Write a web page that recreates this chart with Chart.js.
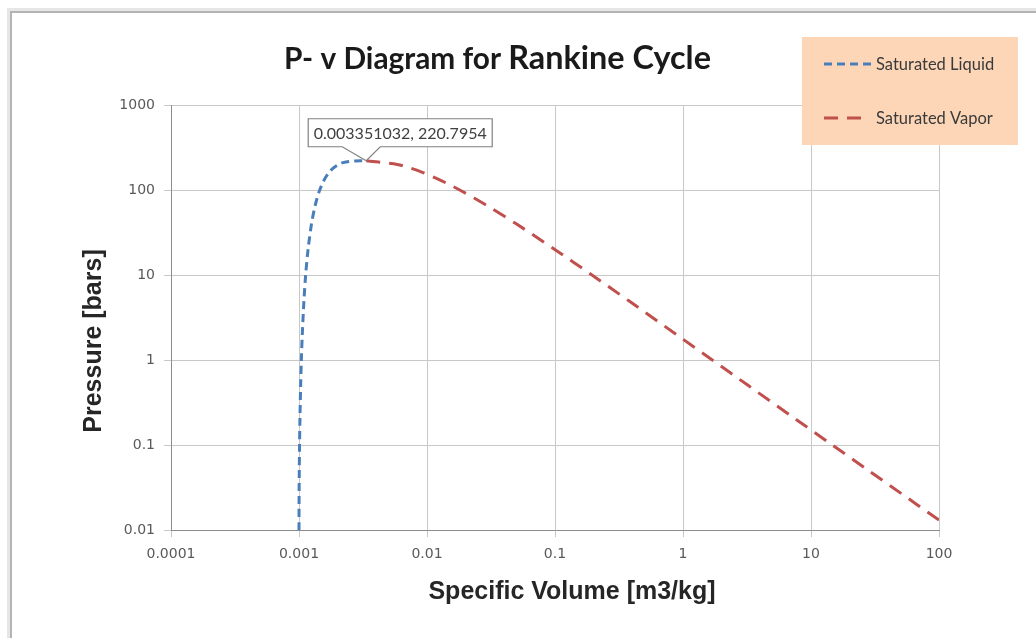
<!DOCTYPE html>
<html>
<head>
<meta charset="utf-8">
<script src="https://cdn.jsdelivr.net/npm/chart.js@4/dist/chart.umd.min.js"></script>
<style>
  html, body { margin: 0; padding: 0; background: #fff; }
  #wrap { width: 1036px; height: 638px; position: relative; }
</style>
</head>
<body>
<div id="wrap"><canvas id="pv" width="1036" height="638"></canvas></div>
<script>
// ---------- DATA ----------
// saturated liquid: specific volume [m3/kg] and pressure [bar]
const liquidV = [0.0010000, 0.0010010, 0.0010050, 0.0010100, 0.0010170, 0.0010300, 0.0010430,
  0.0010610, 0.0010930, 0.0011270, 0.0011770, 0.0012520, 0.0013190, 0.0013840, 0.0014520,
  0.0015270, 0.0016110, 0.0017110, 0.0018400, 0.0020400, 0.0022070, 0.0027500, 0.003351032];
const liquidP = [0.01, 0.02, 0.05, 0.1, 0.2, 0.5, 1, 2, 5, 10, 20, 40, 60, 80, 100,
  120, 140, 160, 180, 200, 210, 220, 220.7954];

// saturated vapor
const vaporV = [0.003351032, 0.005862, 0.007499, 0.009311, 0.0115, 0.014264, 0.018028,
  0.023525, 0.032448, 0.049779, 0.099585, 0.19436, 0.37483, 0.88578, 1.6941, 3.2403,
  7.6481, 14.670, 28.185, 66.990, 129.19];
const vaporP = [220.7954, 200, 180, 160, 140, 120, 100, 80, 60, 40, 20, 10, 5, 2, 1, 0.5,
  0.2, 0.1, 0.05, 0.02, 0.01];

const seriesNames = ['Saturated Liquid', 'Saturated Vapor'];
const xTicks = [0.0001, 0.001, 0.01, 0.1, 1, 10, 100];
const xTickLabels = ['0.0001', '0.001', '0.01', '0.1', '1', '10', '100'];
const yTicks = [0.01, 0.1, 1, 10, 100, 1000];
const yTickLabels = ['0.01', '0.1', '1', '10', '100', '1000'];
const criticalPoint = { v: 0.003351032, p: 220.7954, label: '0.003351032, 220.7954' };

const toPoints = (xs, ys) => xs.map((x, i) => ({ x, y: ys[i] }));

// font size that makes a string a given width
function fitFont(ctx, text, width, tmpl) {
  ctx.font = tmpl(100);
  const s = (100 * width) / ctx.measureText(text).width;
  return tmpl(s.toFixed(1));
}

// ---------- FRAME + TITLES + LEGEND + CALLOUT ----------
const decorPlugin = {
  id: 'decor',
  beforeDraw(chart) {
    const { ctx } = chart;
    ctx.save();
    // outer frame (left + top edge with soft shadow)
    ctx.fillStyle = '#e6e6e6';
    ctx.fillRect(7, 8, 3, 630);
    ctx.fillRect(7, 8, 1029, 3);
    ctx.fillStyle = '#b4b4b4';
    ctx.fillRect(10, 11, 2, 627);
    ctx.fillRect(10, 11, 1026, 2);
    ctx.restore();
  },
  afterDraw(chart) {
    const { ctx, scales } = chart;
    const xs = scales.x, ys = scales.y;
    ctx.save();

    // title with mixed sizes
    const part1 = 'P- v Diagram for ';
    const part2 = 'Rankine Cycle';
    const f1 = fitFont(ctx, part1, 224, s => `bold ${s}px Lato, sans-serif`);
    const f2 = fitFont(ctx, part2, 203, s => `bold ${s}px Lato, sans-serif`);
    ctx.font = f1;
    const w1 = ctx.measureText(part1).width;
    let tx = 284;
    ctx.fillStyle = '#1a1a1a';
    ctx.textBaseline = 'alphabetic';
    ctx.textAlign = 'left';
    ctx.fillText(part1, tx, 69);
    ctx.font = f2;
    ctx.fillText(part2, tx + w1, 69);

    // axis titles
    ctx.fillStyle = '#262626';
    ctx.font = 'bold 25px "Liberation Sans", Arial, sans-serif';
    ctx.textAlign = 'center';
    ctx.fillText('Specific Volume [m3/kg]', 572, 599);
    ctx.save();
    ctx.translate(101, 341);
    ctx.rotate(-Math.PI / 2);
    ctx.fillText('Pressure [bars]', 0, 0);
    ctx.restore();

    // legend box
    ctx.fillStyle = '#fcd6b6';
    ctx.fillRect(802, 37, 216, 108);
    ctx.font = '16.5px Lato, sans-serif';
    ctx.textAlign = 'left';
    ctx.textBaseline = 'middle';
    const items = chart.data.datasets.map((ds, i) => ({
      ds, y: i === 0 ? 64 : 118, x0: 824, x1: i === 0 ? 873 : 861
    }));
    items.forEach(({ ds, y, x0, x1 }) => {
      ctx.strokeStyle = ds.borderColor;
      ctx.lineWidth = 3;
      ctx.setLineDash(ds.borderDash);
      ctx.beginPath();
      ctx.moveTo(x0, y);
      ctx.lineTo(x1, y);
      ctx.stroke();
      ctx.setLineDash([]);
      ctx.fillStyle = '#3a3a3a';
      ctx.fillText(ds.label, 876, y + 1);
    });

    // data callout at the critical point
    const px = xs.getPixelForValue(criticalPoint.v);
    const py = ys.getPixelForValue(criticalPoint.p);
    const bx = px - 58, by = py - 42, bw = 184, bh = 28;
    ctx.beginPath();
    ctx.moveTo(bx, by);
    ctx.lineTo(bx + bw, by);
    ctx.lineTo(bx + bw, by + bh);
    ctx.lineTo(px + 14, by + bh);
    ctx.lineTo(px, py);
    ctx.lineTo(px - 24, by + bh);
    ctx.lineTo(bx, by + bh);
    ctx.closePath();
    ctx.fillStyle = '#ffffff';
    ctx.fill();
    ctx.strokeStyle = '#808080';
    ctx.lineWidth = 1.2;
    ctx.stroke();
    ctx.fillStyle = '#404040';
    ctx.font = '16px Lato, sans-serif';
    ctx.textAlign = 'center';
    ctx.textBaseline = 'middle';
    ctx.fillText(criticalPoint.label, bx + bw / 2, by + bh / 2 + 1);

    ctx.restore();
  }
};

const ctx = document.getElementById('pv').getContext('2d');

new Chart(ctx, {
  type: 'scatter',
  data: {
    datasets: [
      {
        label: seriesNames[0],
        data: toPoints(liquidV, liquidP),
        showLine: true,
        borderColor: '#4a7ebb',
        borderWidth: 3,
        borderDash: [8, 5],
        pointRadius: 0,
        tension: 0.3,
        fill: false,
      },
      {
        label: seriesNames[1],
        data: toPoints(vaporV, vaporP),
        showLine: true,
        borderColor: '#c0504d',
        borderWidth: 3,
        borderDash: [14, 9],
        pointRadius: 0,
        tension: 0.3,
        fill: false,
      },
    ],
  },
  options: {
    responsive: false,
    animation: false,
    layout: { padding: { left: 0, top: 105, right: 97, bottom: 0 } },
    plugins: {
      legend: { display: false },
      tooltip: { enabled: false },
      title: { display: false },
    },
    scales: {
      x: {
        type: 'logarithmic',
        min: 0.0001,
        max: 100,
        afterFit(axis) { axis.height = 108; },
        afterBuildTicks(axis) { axis.ticks = xTicks.map(v => ({ value: v })); },
        ticks: {
          autoSkip: false,
          maxRotation: 0,
          padding: 9,
          color: '#595959',
          font: { family: '"DejaVu Sans", sans-serif', size: 14 },
          callback: (v, i) => xTickLabels[i],
        },
        grid: { color: '#c8c8c8', lineWidth: 1, tickLength: 7 },
        border: { color: '#8c8c8c', width: 1 },
      },
      y: {
        type: 'logarithmic',
        min: 0.01,
        max: 1000,
        afterFit(axis) { axis.width = 171; },
        afterBuildTicks(axis) { axis.ticks = yTicks.map(v => ({ value: v })); },
        ticks: {
          autoSkip: false,
          padding: 9,
          color: '#595959',
          font: { family: '"DejaVu Sans", sans-serif', size: 14 },
          callback: (v, i) => yTickLabels[i],
        },
        grid: { color: '#c8c8c8', lineWidth: 1, tickLength: 7 },
        border: { color: '#8c8c8c', width: 1 },
      },
    },
  },
  plugins: [decorPlugin],
});
</script>
</body>
</html>
